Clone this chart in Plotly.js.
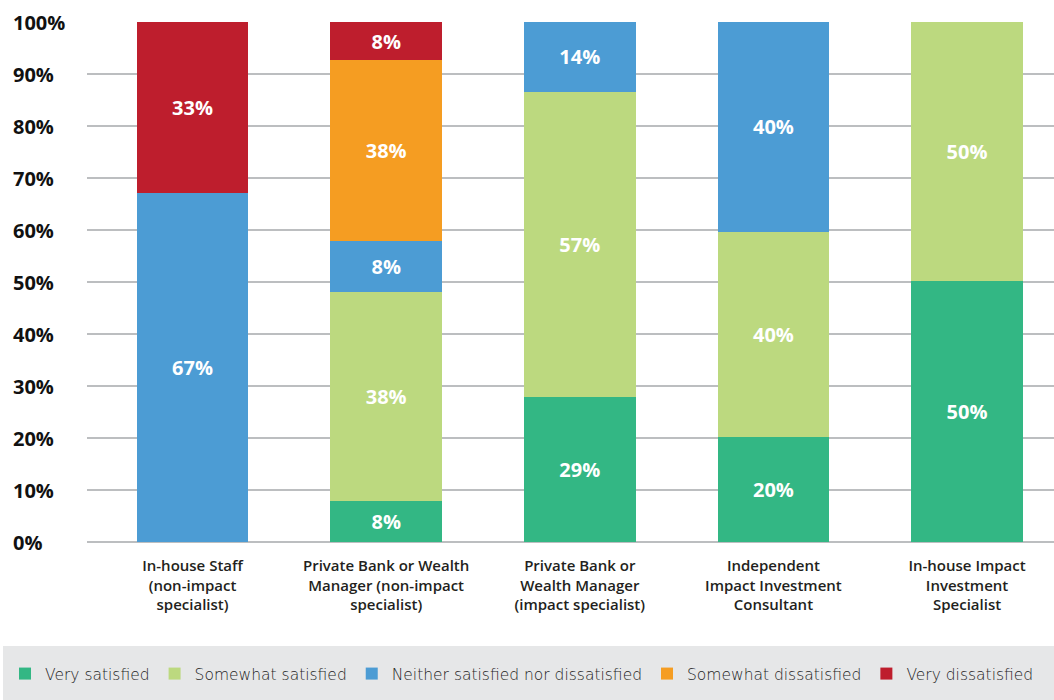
<!DOCTYPE html>
<html>
<head>
<meta charset="utf-8">
<script src="https://cdn.plot.ly/plotly-3.0.1.min.js"></script>
<style>
  html, body { margin: 0; padding: 0; background: #ffffff; }
  #chart { width: 1054px; height: 700px; }
</style>
</head>
<body>
<div id="chart"></div>
<script>
// ---- Data ----
const categories = [
  "In-house Staff<br>(non-impact<br>specialist)",
  "Private Bank or Wealth<br>Manager (non-impact<br>specialist)",
  "Private Bank or<br>Wealth Manager<br>(impact specialist)",
  "Independent<br>Impact Investment<br>Consultant",
  "In-house Impact<br>Investment<br>Specialist"
];

const seriesNames = [
  "Very satisfied",
  "Somewhat satisfied",
  "Neither satisfied nor dissatisfied",
  "Somewhat dissatisfied",
  "Very dissatisfied"
];

// segment heights as drawn (percent)
const verySatisfied        = [0,    7.9,  27.9, 20.1, 50.1];
const somewhatSatisfied    = [0,    40.1, 58.7, 39.6, 49.9];
const neither              = [67.2, 9.9,  13.4, 40.3, 0];
const somewhatDissatisfied = [0,    34.7, 0,    0,    0];
const veryDissatisfied     = [32.8, 7.4,  0,    0,    0];

// printed segment labels
const verySatisfiedLbl        = ["", "8%", "29%", "20%", "50%"];
const somewhatSatisfiedLbl    = ["", "38%", "57%", "40%", "50%"];
const neitherLbl              = ["67%", "8%", "14%", "40%", ""];
const somewhatDissatisfiedLbl = ["", "38%", "", "", ""];
const veryDissatisfiedLbl     = ["33%", "8%", "", "", ""];

const yTickVals = [0, 10, 20, 30, 40, 50, 60, 70, 80, 90, 100];
const yTickText = ["0%", "10%", "20%", "30%", "40%", "50%", "60%", "70%", "80%", "90%", "100%"];

const colors = ["#33b784", "#bcd97f", "#4c9cd4", "#f59d22", "#be1e2d"];

// ---- Build ----
const values = [verySatisfied, somewhatSatisfied, neither, somewhatDissatisfied, veryDissatisfied];
const labels = [verySatisfiedLbl, somewhatSatisfiedLbl, neitherLbl, somewhatDissatisfiedLbl, veryDissatisfiedLbl];
const xIdx = categories.map((_, i) => i);

const traces = values.map((v, k) => ({
  type: "bar",
  name: seriesNames[k],
  x: xIdx,
  y: v,
  width: 0.576,
  text: labels[k],
  texttemplate: "%{text}",
  textposition: "inside",
  insidetextanchor: "middle",
  textangle: 0,
  constraintext: "none",
  textfont: { family: "Open Sans, sans-serif", size: 20, color: "#ffffff", weight: 700 },
  marker: { color: colors[k], line: { width: 0 } },
  hoverinfo: "none"
}));

const annotations = yTickVals.map((v, i) => ({
  xref: "paper", yref: "y",
  x: (11 - 87) / 967, y: v,
  xanchor: "left", yanchor: "middle",
  text: yTickText[i],
  showarrow: false,
  font: { family: "Open Sans, sans-serif", size: 20, color: "#111111", weight: 700 }
}));

const layout = {
  width: 1054, height: 700,
  margin: { l: 87, r: 0, t: 22, b: 158, pad: 0 },
  paper_bgcolor: "#ffffff",
  plot_bgcolor: "#ffffff",
  barmode: "stack",
  showlegend: true,
  legend: {
    orientation: "h",
    x: (5 - 87) / 967, xanchor: "left",
    y: (542 - 674) / 520, yanchor: "middle",
    bgcolor: "rgba(0,0,0,0)",
    traceorder: "normal",
    font: { family: "DejaVu Sans, sans-serif", size: 15.5, color: "#1e1e1e", weight: 300 },
    itemclick: false, itemdoubleclick: false
  },
  xaxis: {
    range: [-0.545, 4.449],
    tickmode: "array",
    tickvals: xIdx,
    ticktext: categories,
    ticks: "",
    ticklabelstandoff: 13,
    showgrid: false,
    zeroline: false,
    showline: false,
    tickfont: { family: "Open Sans, sans-serif", size: 15, color: "#231f20", weight: 600 },
    fixedrange: true
  },
  yaxis: {
    range: [0, 100],
    tickmode: "array",
    tickvals: yTickVals,
    showticklabels: false,
    ticks: "",
    showgrid: true,
    gridcolor: "#bcbec0",
    gridwidth: 1.5,
    zeroline: true,
    zerolinecolor: "#bcbec0",
    zerolinewidth: 1.5,
    showline: false,
    fixedrange: true
  },
  shapes: [{
    type: "rect", xref: "paper", yref: "paper", layer: "below",
    x0: (3 - 87) / 967, x1: 1,
    y0: (542 - 700) / 520, y1: (542 - 646) / 520,
    fillcolor: "#e6e7e8", line: { width: 0 }
  }],
  annotations: annotations
};

Plotly.newPlot("chart", traces, layout, { displayModeBar: false, staticPlot: true });
</script>
</body>
</html>
